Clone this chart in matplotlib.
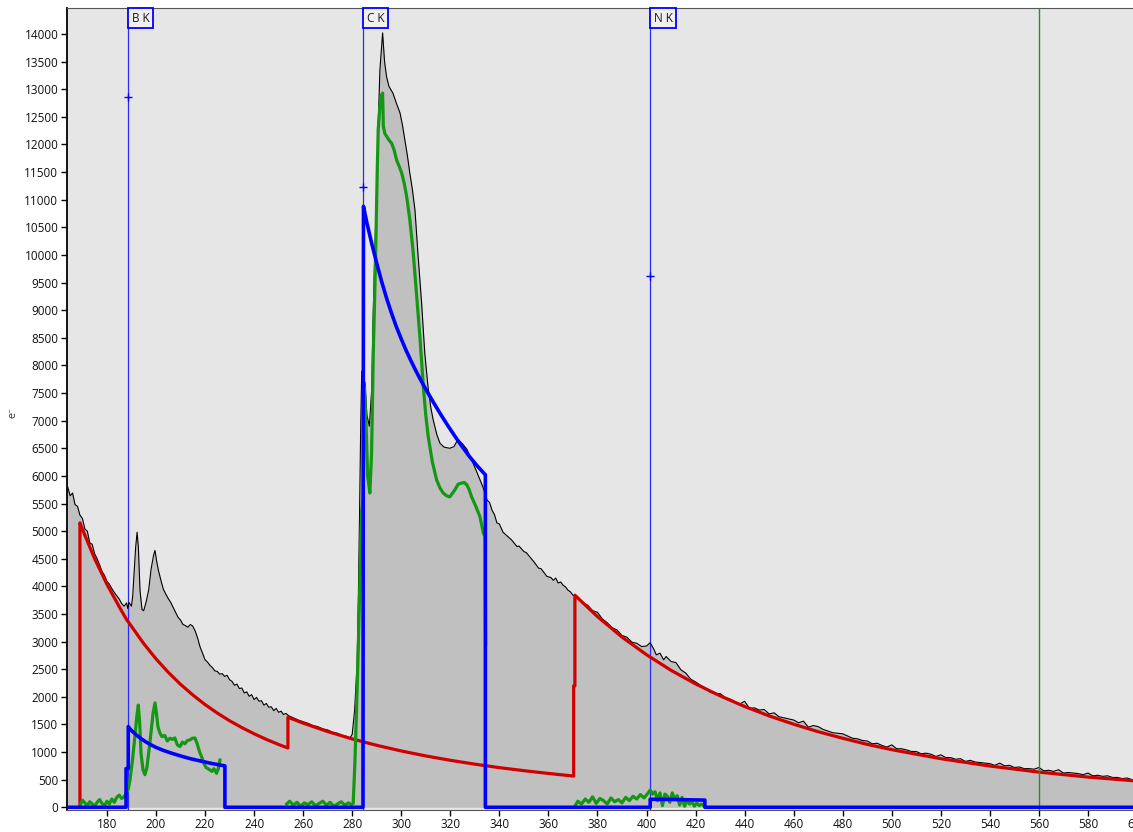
import matplotlib
matplotlib.use('Agg')
import matplotlib.pyplot as plt
import numpy as np

# measured spectrum (energy loss, counts)
black_e = [164, 165, 166, 167, 168, 169, 170, 171, 172, 173, 174, 175, 176, 177, 178, 179, 180, 181, 182, 183,
           184, 185, 186, 187, 188, 188.5, 189, 190, 190.5, 191, 191.7, 192.3, 192.8, 193.5, 194.3, 195, 196, 197,
           198, 199, 199.6, 200.3, 201, 202, 203, 204, 205, 206, 207, 208, 209, 210, 211, 212, 213, 214, 215, 216,
           217, 218, 219, 220, 221, 222, 223, 224, 225, 226, 227, 228, 229, 230, 231, 232, 233, 234, 235, 236, 237,
           238, 239, 240, 241, 242, 243, 244, 245, 246, 247, 248, 249, 250, 251, 252, 253, 254, 256, 258, 260, 262,
           264, 266, 268, 270, 272, 274, 276, 278, 279,
           280, 281, 282, 282.5, 283, 283.5, 283.9, 284.5, 285.2, 286, 287, 288, 288.5, 289.2, 290, 290.7, 291.3,
           292.4, 293.2, 294, 295, 296.6, 298, 299.5, 300.5, 301.5, 302.5, 303.5, 304.5, 305.6, 306.8, 308.3, 309.6,
           310.9, 312, 313, 314.5, 315.8, 317.5, 319.8, 321.5, 323.1, 325, 326.8, 328, 329.3, 331, 333.3, 335, 336,
           337, 338, 339, 340, 341.5, 343, 344, 345, 347.2, 348, 350, 351, 352.5, 354, 356, 357, 359.4, 361, 362,
           363, 364, 365, 366, 367, 368, 369, 370,
           372, 374, 376, 378, 380, 382, 384, 386, 388, 390, 392, 394, 396, 398, 400, 401.5, 403, 404, 405.5, 407,
           408, 410, 412, 414, 416, 418, 420, 422, 424, 426, 428,
           430, 432, 434, 436, 438, 440, 442, 444, 446, 448, 450, 452, 454, 456, 458, 460, 462, 464, 466, 468, 470,
           472, 474, 476, 478, 480, 482, 484, 486, 488, 490, 492, 494, 496, 498, 500, 502, 504, 506, 508, 510, 512,
           514, 516, 518, 520, 522, 524, 526, 528, 530, 532, 534, 536, 538, 540, 542, 544, 546, 548, 550, 552, 554,
           556, 558, 560, 562, 564, 566, 568, 570, 572, 574, 576, 578, 580, 582, 584, 586, 588, 590, 592, 594, 596,
           598, 600]
black_v = [5800, 5640, 5690, 5480, 5450, 5290, 5230, 5040, 5000, 4790, 4760, 4590, 4500, 4390, 4270, 4200, 4090,
           4040, 3960, 3890, 3830, 3770, 3690, 3640, 3700, 3600, 3710, 3640, 3820, 4200, 4700, 4980, 4720, 3920,
           3580, 3560, 3720, 3930, 4310, 4560, 4650, 4450, 4290, 4110, 3950, 3860, 3780, 3710, 3620, 3530, 3440,
           3390, 3310, 3290, 3260, 3310, 3280, 3190, 3060, 2900, 2790, 2670, 2630, 2570, 2530, 2470, 2460, 2410,
           2420, 2370, 2390, 2310, 2280, 2210, 2230, 2150, 2160, 2070, 2090, 2010, 2040, 1950, 1990, 1920, 1930,
           1850, 1880, 1810, 1820, 1750, 1790, 1720, 1740, 1680, 1700, 1660, 1620, 1580, 1550, 1520,
           1480, 1460, 1420, 1400, 1360, 1340, 1300, 1280, 1250,
           1320, 1760, 2600, 3760, 5300, 7000, 7900, 7300, 7700, 7100, 6900, 7600, 8830, 10000, 11230, 12500, 13350,
           14020, 13500, 13230, 13050, 12930, 12750, 12570, 12350, 12080, 11800, 11480, 11200, 10810, 10030, 9130,
           8220, 7620, 7250, 7020, 6750, 6590, 6520, 6500, 6530, 6660, 6580, 6480, 6350, 6230, 6050, 5800, 5560,
           5520, 5380, 5300, 5150, 5130, 4980, 4920, 4880, 4840, 4720, 4730, 4630, 4610, 4530, 4450, 4330, 4320,
           4180, 4160, 4110, 4150, 4060, 4080, 4020, 3990, 3930, 3900, 3840,
           3800, 3690, 3660, 3560, 3530, 3410, 3340, 3250, 3210, 3110, 3080, 2990, 2970, 2910, 2920, 2980, 2860,
           2760, 2790, 2670, 2730, 2640, 2620, 2490, 2430, 2320, 2270, 2210, 2160, 2080, 2060,
           2060, 1990, 1960, 1910, 1870, 1920, 1790, 1800, 1760, 1770, 1690, 1710, 1640, 1620, 1600, 1580, 1530,
           1560, 1450, 1480, 1460, 1410, 1380, 1350, 1340, 1330, 1290, 1250, 1240, 1210, 1200, 1150, 1160, 1120,
           1090, 1130, 1060, 1060, 1040, 1010, 1010, 970, 980, 960, 920, 950, 900, 900, 870, 880, 830, 850, 820,
           810, 800, 790, 760, 800, 750, 760, 720, 730, 700, 700, 690, 720, 660, 670, 650, 680, 620, 630, 620, 610,
           590, 620, 570, 580, 560, 570, 540, 540, 520, 530, 500, 500]

# background fits (red)
red_e = [169, 169, 170, 175, 180, 185, 188, 190, 195, 200, 205, 210, 215, 220, 225, 230, 235, 240, 245, 250,
         253.8, 253.8, 260, 270, 280, 290, 300, 310, 320, 330, 340, 350, 360, 370.3, 370.3, 370.8, 370.8, 380,
         390, 400, 410, 420, 430, 440, 450, 460, 470, 480, 490, 500, 520, 540, 560, 580, 601]
red_v = [0, 5150, 5034, 4500, 4038, 3632, 3400, 3277, 2964, 2688, 2444, 2227, 2034, 1860, 1706, 1567, 1443, 1331,
         1229, 1137, 1073, 1630, 1524, 1371, 1238, 1122, 1020, 930, 851, 781, 718, 663, 613, 565, 2200, 2200, 3840,
         3452, 3082, 2762, 2480, 2234, 2018, 1825, 1654, 1504, 1369, 1250, 1139, 1043, 880, 747, 637, 547, 472]

# edge models (blue)
blue_e = [164, 187.8, 187.8, 188.7, 188.7, 190, 192, 194, 196, 198, 200, 203, 206, 210, 214, 218, 222, 225, 228.1,
          228.1, 284.4, 284.6, 286, 288, 290, 292, 294, 296, 298, 300, 302, 304, 306, 308, 310, 313, 316, 319, 322,
          325, 328, 331, 334.3, 334.3, 401.5, 401.5, 412, 423.8, 423.8, 601]
blue_v = [0, 0, 700, 700, 1460, 1390, 1310, 1240, 1180, 1130, 1085, 1030, 985, 930, 880, 840, 800, 775, 750,
          0, 0, 10880, 10580, 10200, 9850, 9520, 9220, 8950, 8700, 8480, 8270, 8080, 7900, 7730, 7570, 7340, 7120,
          6910, 6710, 6520, 6340, 6180, 6020, 0, 0, 145, 140, 130, 0, 0]

# background-subtracted signal (green), three pieces
green1_e = [169.3, 170, 171, 172, 173, 174, 175, 176, 177, 178, 179, 180, 181, 182, 183, 184, 185, 186, 187, 188,
            188.7, 189.4, 190.4, 191.4, 192.2, 192.8, 193.4, 193.9, 194.7, 195.5, 196.3, 197.5, 198.2, 198.8,
            199.6, 200.2, 200.8, 201.6, 202.4, 203.6, 204.6, 205.7, 206.7, 207.7, 208.7, 209.8, 210.8, 211.8,
            212.8, 213.8, 214.8, 215.9, 216.8, 217.8, 218.6, 219.5, 220.4, 221.2, 222, 222.8, 223.6, 224.7, 225.4,
            226.1]
green1_v = [60, 130, 80, 30, 100, 60, 20, 90, 140, 70, 30, 110, 60, 150, 90, 180, 220, 160, 190, 260, 330, 490,
            850, 1280, 1650, 1850, 1500, 980, 680, 590, 720, 1160, 1450, 1700, 1890, 1700, 1460, 1345, 1280, 1300,
            1200, 1250, 1230, 1255, 1130, 1100, 1180, 1150, 1210, 1220, 1250, 1255, 1150, 1000, 915, 800, 720, 700,
            675, 650, 700, 615, 700, 855]
green2_e = [253.3, 254.5, 256, 257.5, 259, 260.5, 262, 263.5, 265, 266.5, 268, 269.5, 271, 272.5, 274, 275.5, 277,
            278.5, 279.6, 280.4, 281.1, 281.8, 282.5, 283.2, 283.8, 284.4, 285, 285.6, 286.3, 287.2, 287.9, 288.6,
            289.2, 289.7, 290.2, 290.6, 291.3, 292, 292.4, 292.7, 293.3, 294, 295, 296.1, 297.1, 298.1, 299.2,
            300.2, 301.2, 302.2, 303.5, 304.9, 306.3, 307.6, 309, 310, 311, 312.7, 314.4, 315.8, 317.1, 318.5,
            319.8, 320.8, 321.9, 323.2, 324.6, 325.7, 326.7, 327.7, 328.7, 330.4, 332.1, 333.5, 334.2, 334.4]
green2_v = [60, 110, 40, 90, 20, 80, 50, 100, 30, 70, 110, 40, 90, 20, 60, 100, 40, 80, 50, 70, 800, 1800, 2910,
            4200, 5330, 5600, 7600, 7000, 6000, 5690, 6400, 8220, 9300, 10330, 11500, 12260, 12700, 12900, 12930,
            12330, 12200, 12150, 12080, 12020, 11900, 11720, 11600, 11480, 11300, 11060, 10640, 10030, 9250, 8520,
            7620, 7100, 6710, 6250, 5930, 5780, 5690, 5640, 5620, 5680, 5750, 5850, 5870, 5880, 5840, 5750, 5620,
            5450, 5260, 4960, 4900, 2950]
green3_e = [370.8, 372, 373.5, 375, 376.5, 378, 379.5, 381, 382.5, 384, 385.5, 387, 388.5, 390, 391.5, 393, 394.5,
            396, 397.5, 399, 400.5, 401.5, 402.5, 403.5, 404.5, 405.5, 406.5, 407.5, 408.5, 409.5, 410.5, 411.5,
            412.5, 413.5, 414.5, 415.5, 416.5, 417.5, 418.5, 419.5, 420.5, 421.5, 422.5, 423.5]
green3_v = [20, 110, 60, 150, 90, 190, 70, 160, 120, 60, 170, 100, 140, 80, 180, 120, 200, 150, 230, 170, 250, 310,
            240, 280, 120, 260, 30, 240, 200, 90, 260, 150, 210, 40, 180, 20, 120, 60, 100, 20, 80, 30, 60, 20]

# edge markers
edge_names = ['B K', 'C K', 'N K']
edge_e = [188.6, 284.4, 401.4]
edge_plus = [12860, 11230, 9620]

plt.rcParams['font.family'] = ['Open Sans', 'DejaVu Sans']

fig = plt.figure(figsize=(11.33, 8.32), dpi=100)
ax = fig.add_axes([66.7 / 1133, 22 / 832, 1072.8 / 1133, 802 / 832])
ax.set_facecolor('#e6e6e6')

ax.fill_between(black_e, black_v, 0, color='#c0c0c0', lw=0, zorder=1)
for e in edge_e:
    ax.axvline(e, color='#2a2aff', lw=0.9, zorder=2)
ax.plot(black_e, black_v, color='black', lw=0.8, zorder=3)
ax.plot(red_e, red_v, color='#d00000', lw=2.3, zorder=4)
ax.axvline(560, color='#2a8c2a', lw=1.0, zorder=5)
for ge, gv in [(green1_e, green1_v), (green2_e, green2_v), (green3_e, green3_v)]:
    ax.plot(ge, gv, color='#149814', lw=2.3, zorder=5)
ax.plot(blue_e, blue_v, color='#0000ff', lw=2.6, zorder=6)
ax.plot(edge_e, edge_plus, '+', color='#0000ff', ms=6, mew=1, zorder=7)

for name, e in zip(edge_names, edge_e):
    ax.annotate(name, xy=(e, 1), xycoords=('data', 'axes fraction'), xytext=(2.8, -2.8),
                textcoords='offset points', ha='left', va='top', fontsize=8.5, color='#1a1a1a', zorder=8,
                bbox=dict(boxstyle='square,pad=0.3', fc='#f0f0f0', ec='#0000ff', lw=1.3))

ax.set_xlim(163.6, 601)
ax.set_ylim(-49, 14471)
ax.set_xticks(np.arange(180, 601, 20))
ax.set_yticks(np.arange(0, 14001, 500))
ax.tick_params(axis='both', labelsize=8.5, labelcolor='#111111', length=4, width=1, pad=2)

ax.spines['left'].set_color('black')
ax.spines['left'].set_linewidth(1.3)
ax.spines['bottom'].set_color('#555555')
ax.spines['top'].set_color('#555555')
ax.spines['right'].set_visible(False)

fig.text(0.011, 0.504, 'e\u207b', rotation=90, fontsize=7, ha='center', va='center',
         family=['DejaVu Sans'], color='#333333')

fig.savefig('out.png', dpi=100)
